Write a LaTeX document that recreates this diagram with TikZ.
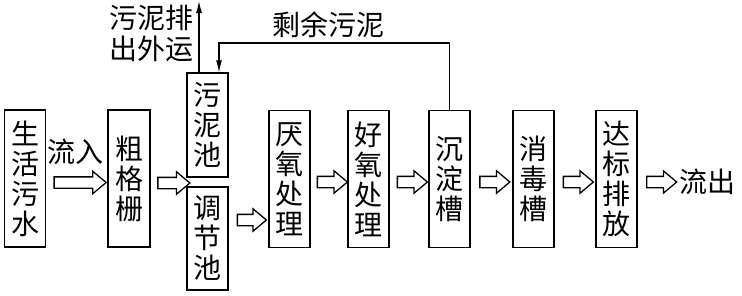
\documentclass[tikz,border=0pt]{standalone}
\usepackage{fontspec}
\newfontfamily\cjk{Noto Sans CJK SC}
\usetikzlibrary{shapes.arrows,calc,arrows.meta}
\begin{document}
\begin{tikzpicture}[x=1pt,y=-1pt,
  unit/.style={draw,line width=1.3pt,inner sep=0pt,minimum width=41pt,minimum height=137pt,align=center,font=\cjk\fontsize{28}{30}\selectfont},
  tag/.style={inner sep=0pt,font=\cjk\fontsize{28}{31}\selectfont},
  flow/.style={single arrow,draw,line width=1.3pt,inner xsep=0pt,inner ysep=5pt,single arrow head extend=5.5pt,single arrow tip angle=80},
  pipe/.style={line width=1.1pt,-{Latex[length=12pt,width=6pt]}}]
\useasboundingbox (0,0) rectangle (742,295);

% Process units
\node[unit] (src) at (25,178.5) {生\\活\\污\\水};
\node[unit,minimum width=42pt] (grid) at (129,178.5) {粗\\格\\栅};
\node[unit,minimum height=104pt] (sludge) at (207.5,125) {污\\泥\\池};
\node[unit,minimum height=103pt] (adjust) at (207.5,238.5) {调\\节\\池};
\node[unit] (anaer) at (289.5,179) {厌\\氧\\处\\理};
\node[unit] (aer) at (368.5,179) {好\\氧\\处\\理};
\node[unit] (settle) at (449.5,179) {沉\\淀\\槽};
\node[unit] (disinf) at (533.5,179) {消\\毒\\槽};
\node[unit] (dis) at (616.5,179) {达\\标\\排\\放};
\node[tag,anchor=west] (out) at (679,182) {流出};

% Labels
\node[tag] (inflow) at (75,152) {流入};
\node[tag] (rest) at (328,25) {剩余污泥};
\node[tag,anchor=east,align=left] (haul) at (194,33) {污泥排\\出外运};

% Water flow
\node[flow,minimum height=52pt] (f1) at ($(src.east)!.5!(grid.west)+(0,4)$) {};
\node[flow,minimum height=32pt] (f2) at ($(grid.east)!.5!(grid.east -| adjust.west)+(2,4.5)$) {};
\node[flow,minimum height=29pt] (f3) at ($(adjust.east)!.5!(adjust.east -| anaer.west)+(0,-18.5)$) {};
\node[flow,minimum height=30pt] (f4) at ($(anaer.east)!.5!(aer.west)+(0,3)$) {};
\node[flow,minimum height=30pt] (f5) at ($(aer.east)!.5!(settle.west)+(0,3)$) {};
\node[flow,minimum height=30pt] (f6) at ($(settle.east)!.5!(disinf.west)+(0,3)$) {};
\node[flow,minimum height=30pt] (f7) at ($(disinf.east)!.5!(dis.west)+(0,3)$) {};
\node[flow,minimum height=30pt] (f8) at ($(dis.east)!.5!(out.west)+(0,1.5)$) {};

% Sludge lines
\coordinate (vent) at (199,1);
\draw[pipe] (sludge.north -| vent) -- (vent);
\coordinate (bend) at (219,43);
\draw[pipe] (settle.north) |- (bend) -- (sludge.north -| bend);

\end{tikzpicture}
\end{document}
